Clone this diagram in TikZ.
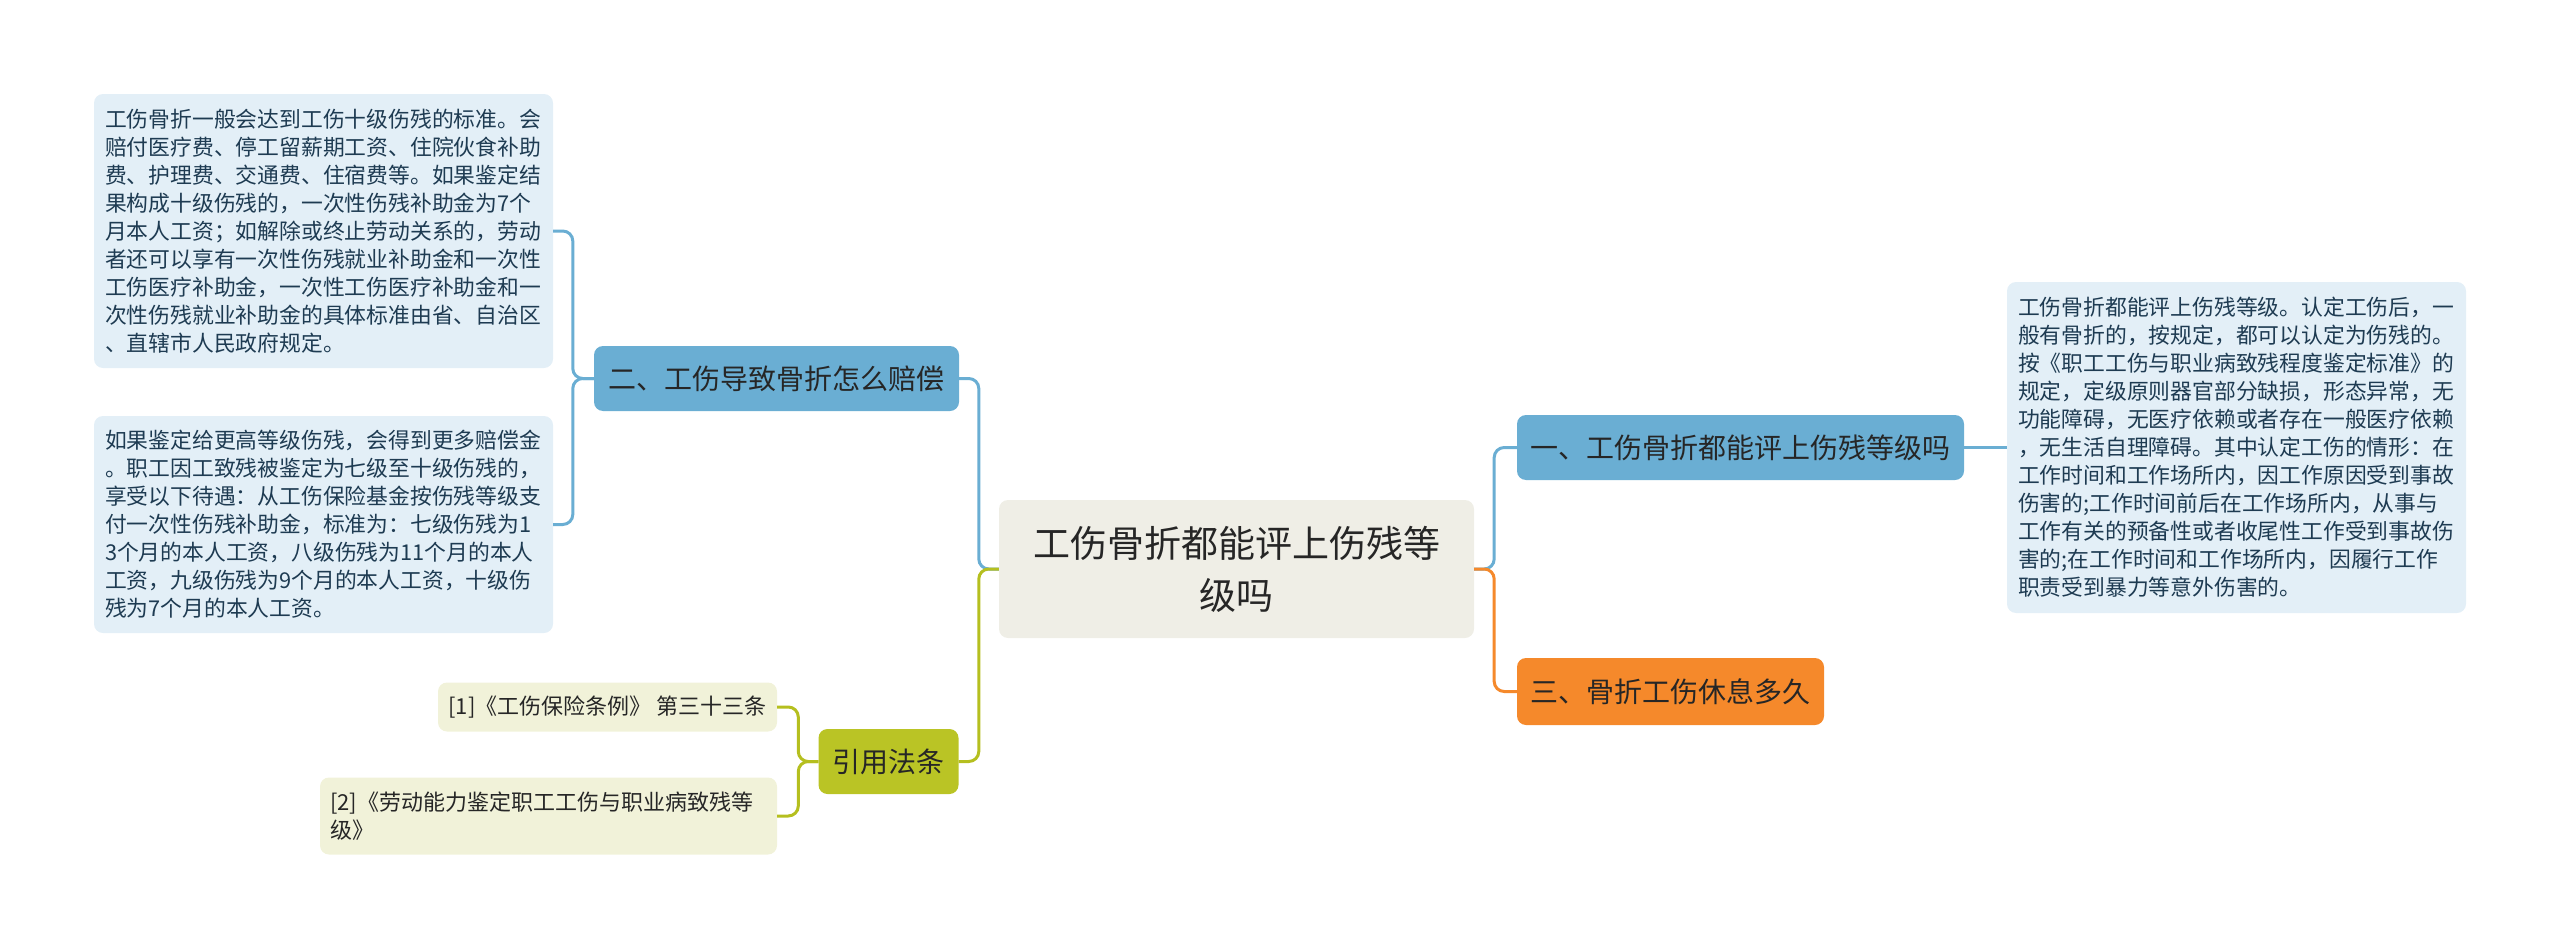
\documentclass[tikz,border=0pt]{standalone}
\usepackage{fontspec}
\newfontfamily\cjk{Noto Sans CJK SC}
\definecolor{tbfill}{HTML}{E3EFF7}
\definecolor{tbtext}{HTML}{1E3B52}
\definecolor{bluen}{HTML}{6AAED3}
\definecolor{bluel}{HTML}{6AAED3}
\definecolor{cfill}{HTML}{EFEEE6}
\definecolor{orn}{HTML}{F5892B}
\definecolor{greenn}{HTML}{BAC425}
\definecolor{greenl}{HTML}{B5BF1F}
\definecolor{reffill}{HTML}{F1F2D9}
\definecolor{dtext}{HTML}{262626}
\tikzset{
  base/.style={rounded corners=9pt, inner sep=0pt, font=\cjk},
  textbox/.style={base, fill=tbfill, text=tbtext, align=left, text width=437pt,
     font=\cjk\fontsize{21.8}{28}\selectfont},
  topic/.style={base, text=dtext, align=center, font=\cjk\fontsize{28}{34}\selectfont, minimum height=65pt},
  refbox/.style={base, fill=reffill, text=dtext, font=\cjk\fontsize{22}{28}\selectfont},
  conn/.style={line width=3pt, rounded corners=10pt},
}
\begin{document}
\begin{tikzpicture}[x=1pt,y=-1pt]
\useasboundingbox (0,0) rectangle (2560,950);
% nodes
\node[base, fill=cfill, text=dtext, align=center, minimum width=475pt, minimum height=138pt,
      font=\cjk\fontsize{37}{52}\selectfont] (c) at (1236.5,569) {工伤骨折都能评上伤残等\\级吗};
\node[topic, fill=bluen, minimum width=447pt] (n1) at (1740.5,447.5) {一、工伤骨折都能评上伤残等级吗};
\node[topic, fill=orn, minimum width=307pt, minimum height=67pt] (n3) at (1670.5,691.5) {三、骨折工伤休息多久};
\node[topic, fill=bluen, minimum width=365pt] (n2) at (776.5,378.5) {二、工伤导致骨折怎么赔偿};
\node[topic, fill=greenn, minimum width=140pt] (g) at (888.5,761.5) {引用法条};
\node[textbox, minimum width=459pt, minimum height=331pt] (rb) at (2236.5,447.5) {工伤骨折都能评上伤残等级。认定工伤后，一\\般有骨折的，按规定，都可以认定为伤残的。\\按《职工工伤与职业病致残程度鉴定标准》的\\规定，定级原则器官部分缺损，形态异常，无\\功能障碍，无医疗依赖或者存在一般医疗依赖\\，无生活自理障碍。其中认定工伤的情形：在\\工作时间和工作场所内，因工作原因受到事故\\伤害的;工作时间前后在工作场所内，从事与\\工作有关的预备性或者收尾性工作受到事故伤\\害的;在工作时间和工作场所内，因履行工作\\职责受到暴力等意外伤害的。};
\node[textbox, minimum width=459pt, minimum height=274pt] (b1) at (323.5,231) {工伤骨折一般会达到工伤十级伤残的标准。会\\赔付医疗费、停工留薪期工资、住院伙食补助\\费、护理费、交通费、住宿费等。如果鉴定结\\果构成十级伤残的，一次性伤残补助金为7个\\月本人工资；如解除或终止劳动关系的，劳动\\者还可以享有一次性伤残就业补助金和一次性\\工伤医疗补助金，一次性工伤医疗补助金和一\\次性伤残就业补助金的具体标准由省、自治区\\、直辖市人民政府规定。};
\node[textbox, minimum width=459pt, minimum height=217pt] (b2) at (323.5,524.5) {如果鉴定给更高等级伤残，会得到更多赔偿金\\。职工因工致残被鉴定为七级至十级伤残的，\\享受以下待遇：从工伤保险基金按伤残等级支\\付一次性伤残补助金，标准为：七级伤残为1\\3个月的本人工资，八级伤残为11个月的本人\\工资，九级伤残为9个月的本人工资，十级伤\\残为7个月的本人工资。};
\node[refbox, minimum width=339pt, minimum height=49pt] (r1) at (607.5,707) {[1]《工伤保险条例》 第三十三条};
\node[refbox, align=left, minimum width=457pt, minimum height=77pt, text width=437pt] (r2) at (548.5,816) {[2]《劳动能力鉴定职工工伤与职业病致残等\\级》};
% connectors
\draw[conn, bluel] (c.west) -- ++(-20,0) |- (n2.east);
\draw[conn, greenl] (c.west) -- ++(-20,0) |- (g.east);
\draw[conn, bluel] (n2.west) -- ++(-21,0) |- (b1.east);
\draw[conn, bluel] (n2.west) -- ++(-21,0) |- (b2.east);
\draw[conn, greenl] (g.west) -- ++(-20,0) |- (r1.east);
\draw[conn, greenl] (g.west) -- ++(-20,0) |- (r2.east);
\draw[conn, bluel] (c.east) -- ++(20,0) |- (n1.west);
\draw[conn, orn] (c.east) -- ++(20,0) |- (n3.west);
\draw[conn, bluel] (n1.east) -- (rb.west);
\end{tikzpicture}
\end{document}
